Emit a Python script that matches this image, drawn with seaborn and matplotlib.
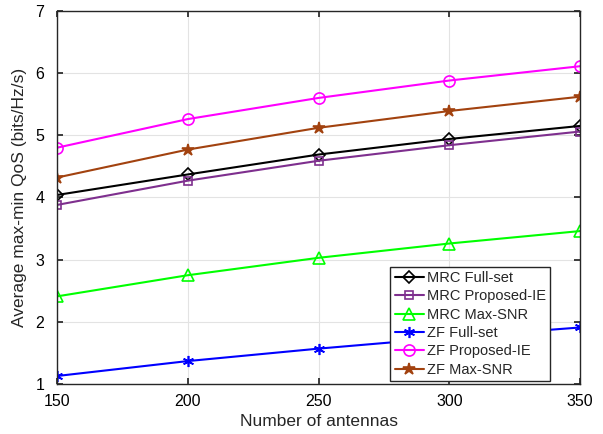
import matplotlib
matplotlib.use("Agg")
import matplotlib.pyplot as plt
import seaborn as sns
import pandas as pd

antennas = [150, 200, 250, 300, 350]
mrc_full = [4.04, 4.37, 4.69, 4.94, 5.15]
mrc_prop = [3.88, 4.27, 4.59, 4.84, 5.06]
mrc_maxsnr = [2.41, 2.75, 3.03, 3.26, 3.46]
zf_full = [1.13, 1.37, 1.57, 1.75, 1.91]
zf_prop = [4.80, 5.26, 5.60, 5.88, 6.11]
zf_maxsnr = [4.32, 4.77, 5.12, 5.39, 5.62]

labels = ["MRC Full-set", "MRC Proposed-IE", "MRC Max-SNR",
          "ZF Full-set", "ZF Proposed-IE", "ZF Max-SNR"]
series = [mrc_full, mrc_prop, mrc_maxsnr, zf_full, zf_prop, zf_maxsnr]
colors = ["#000000", "#7E2F8E", "#00FF00", "#0000FF", "#FF00FF", "#A2420F"]
markers = ["D", "s", "^", (6, 2, 0), "o", "*"]
msizes = [6, 6, 8, 8, 8, 9]
fills = ["none", "none", "none", None, "none", "#A2420F"]

sns.set_theme(style="whitegrid")
plt.rcParams['font.family'] = ['Liberation Sans', 'DejaVu Sans']

rows = []
for lab, vals in zip(labels, series):
    for a, v in zip(antennas, vals):
        rows.append({"Antennas": a, "QoS": v, "Scheme": lab})
df = pd.DataFrame(rows)

fig = plt.figure(figsize=(6.03, 4.34), dpi=100)
ax = fig.add_axes([0.0945, 0.115, 0.8675, 0.86])

for lab, col, mk, ms, fc in zip(labels, colors, markers, msizes, fills):
    sub = df[df["Scheme"] == lab]
    kw = dict(marker=mk, markersize=ms, markeredgecolor=col,
              markeredgewidth=1.2, linewidth=1.5)
    if fc is not None:
        kw["markerfacecolor"] = fc
    sns.lineplot(data=sub, x="Antennas", y="QoS", ax=ax, color=col,
                 label=lab, **kw)

ax.set_xlim(150, 350)
ax.set_ylim(1, 7)
ax.set_xticks([150, 200, 250, 300, 350])
ax.set_yticks([1, 2, 3, 4, 5, 6, 7])
ax.tick_params(axis='both', direction='in', length=4, labelsize=11.5,
               colors='#262626', top=True, right=True, bottom=True, left=True)
ax.tick_params(axis='x', pad=7)
ax.tick_params(axis='y', pad=9)
ax.tick_params(axis='both', labelcolor='black')
ax.grid(True, color='#E3E3E3', linewidth=0.8)
for sp in ax.spines.values():
    sp.set_color('#262626')
    sp.set_linewidth(1.0)
ax.set_xlabel("Number of antennas", fontsize=12.5, color='#262626', labelpad=4)
ax.set_ylabel("Average max-min QoS (bits/Hz/s)", fontsize=12.5,
              color='#262626', labelpad=6)

leg = ax.legend(loc='lower right', bbox_to_anchor=(0.948, 0.0),
                fontsize=10.5, frameon=True, fancybox=False, framealpha=1.0,
                edgecolor='#262626', handlelength=2.0, handletextpad=0.2,
                borderpad=0.3, labelspacing=0.3, borderaxespad=0.2)
leg.get_frame().set_linewidth(1.0)

fig.savefig("out.png", dpi=100)
